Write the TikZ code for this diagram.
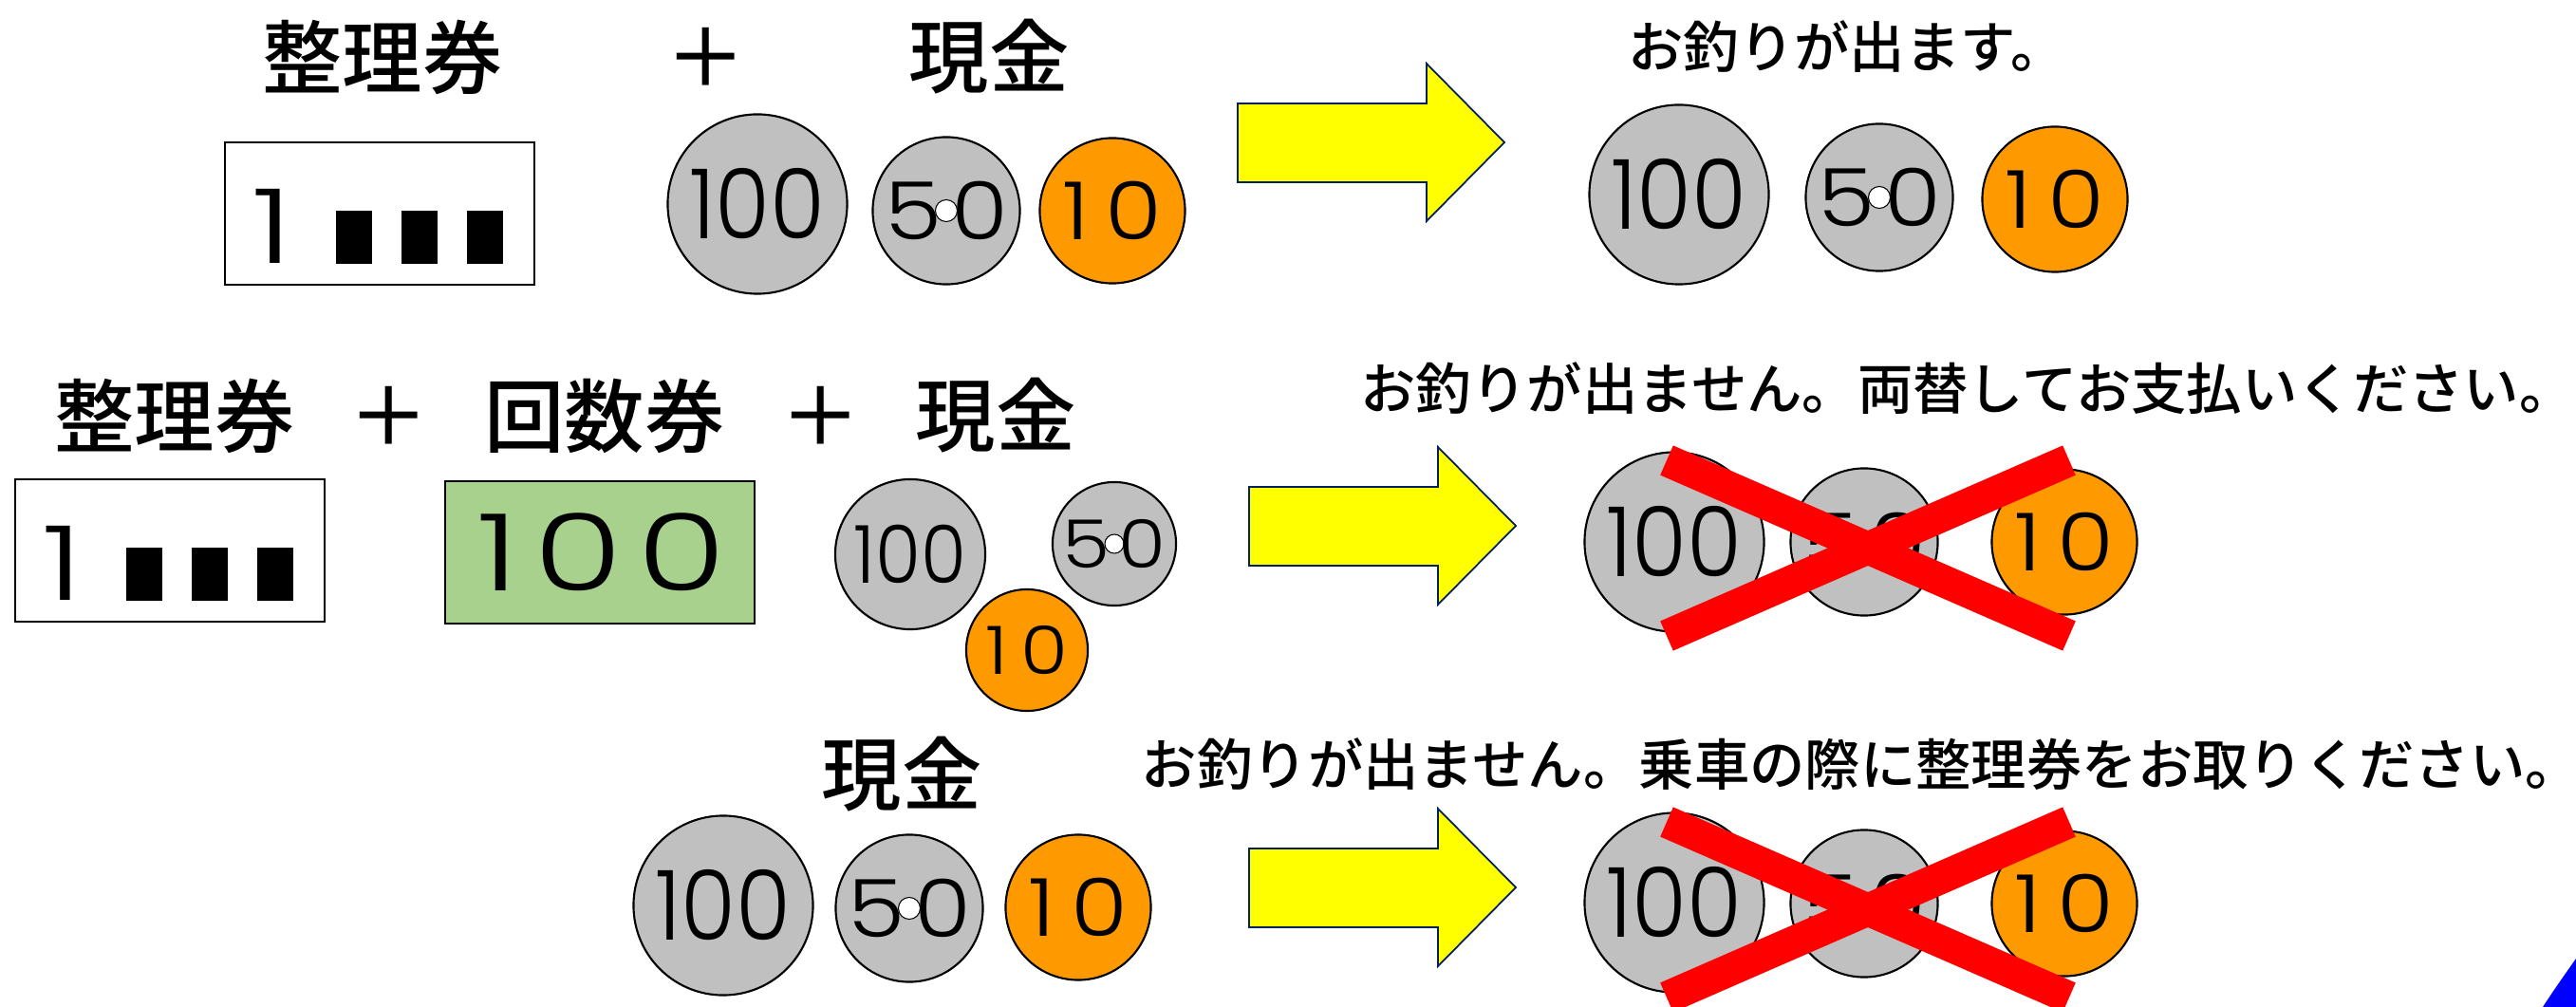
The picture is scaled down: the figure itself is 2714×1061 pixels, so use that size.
\documentclass[tikz,border=0pt]{standalone}
\usepackage{fontspec}
\setmainfont{Noto Sans CJK JP Medium}
\newfontfamily\midfont[FakeStretch=0.92]{Poppins Light}
\newfontfamily\widefont[FakeStretch=1.15]{Poppins Light}
\newfontfamily\notefont[FakeStretch=1.35]{Poppins Light}
\usetikzlibrary{positioning}

\definecolor{coingray}{RGB}{192,192,192}
\definecolor{coinorange}{RGB}{255,153,0}
\definecolor{notegreen}{RGB}{169,209,142}
\definecolor{arrowblue}{RGB}{0,32,96}
\definecolor{arrowyellow}{RGB}{255,255,0}
\definecolor{crossred}{RGB}{255,0,0}
\definecolor{cornerblue}{RGB}{0,0,255}
\newcommand{\nowidth}[1]{\makebox[0pt]{#1}}

\tikzset{
  heading/.style={font=\fontsize{24}{24}\selectfont,inner sep=0pt},
  message/.style={font=\fontsize{16.6}{16.6}\selectfont,inner sep=0pt},
  coin/.style={draw,circle,line width=.6pt,inner sep=0pt,fill=coingray},
  bigsize/.style={font=\midfont\fontsize{#1}{#1}\selectfont},
  smallsize/.style={font=\widefont\fontsize{#1}{#1}\selectfont,inner sep=0pt},
  tenyen/.style={coin,fill=coinorange},
  hole/.style={draw,circle,line width=.3pt,fill=white,inner sep=0pt,minimum size=.23cm},
  ticket/.style={draw,line width=.6pt,minimum width=3.26cm,minimum height=1.5cm,inner sep=0pt},
  bar/.style={fill=black,inner sep=0pt,minimum width=.37cm,minimum height=.55cm},
  bigarrow/.style={draw=arrowblue,line width=.5pt,fill=arrowyellow},
  crossout/.style={crossred,line width=.34cm}
}

\begin{document}
\begin{tikzpicture}[x=.01cm,y=-.01cm]
\useasboundingbox (0,0) rectangle (2714,1061);
% first row
\node[heading] (title1) at (403,60) {整理券};
\node[heading] (plus1) at (744,60) {＋};
\node[heading] (cash1) at (1042,60) {現金};
\node[message] (msg1) at (1946,49) {お釣りが出ます。\hspace{-.6em}};
% second row
\node[heading] (title2) at (184,438) {整理券};
\node[heading] (plus2) at (410,438) {＋};
\node[heading] (kaisu) at (637,438) {回数券};
\node[heading] (plus3) at (865,438) {＋};
\node[heading] (cash2) at (1049,438) {現金};
\node[message] (msg2) at (2073,409) {お釣りが出ません。両替してお支払いください。\hspace{-1em}};
% third row
\node[heading] (cash3) at (950,816) {現金};
\node[message] (msg3) at (1961,805) {お釣りが出ません。乗車の際に整理券をお取りください。\hspace{-1em}};
% tickets
\foreach \n/\x/\y in {A/236/149,B/15/504} {
  \node[ticket,anchor=north west] (ticket\n) at (\x,\y) {};
  \node[inner sep=0pt,font=\notefont\fontsize{31}{31}\selectfont] (one\n) at (\x+51,\y+89) {1};
  \foreach \i/\d in {1/137,2/206,3/275}
    \node[bar] (bar\n\i) at (\x+\d,\y+101) {};
}
\node[ticket,anchor=north west,fill=notegreen] (note) at (468,506) {};
\node[inner sep=0pt,font=\notefont\fontsize{32}{32}\selectfont] (notetext) at (634,582) {1\hspace{.14em}0\hspace{.14em}0};
% coins
\foreach \n/\x/\y in {a/798/215,b/1769/205,c/1764/571,d/762/954,e/1764/951} {
  \node[coin,bigsize=29,minimum size=1.89cm] (hundred\n) at (\x,\y) {\nowidth{100}};
}
\foreach \n/\x/\y in {a/997/222,b/1980/208,c/1964/571,d/958/957,e/1964/952} {
  \node[coin,minimum size=1.55cm] (fifty\n) at (\x,\y) {};
  \node[hole] (hole\n) at (fifty\n) {};
  \node[smallsize=24] (fiftytext\n) at (fifty\n) {\nowidth{5\hspace{.12em}0}};
}
\foreach \n/\x/\y in {a/1172/222,b/2165/210,c/2175/571,d/1136/956,e/2175/952} {
  \node[tenyen,smallsize=24,minimum size=1.53cm] (ten\n) at (\x,\y) {\nowidth{1\hspace{.2em}0}};
}
\node[coin,bigsize=24,minimum size=1.58cm] (hundredf) at (959,584) {\nowidth{100}};
\node[coin,minimum size=1.3cm] (fiftyf) at (1174,573) {};
\node[hole,minimum size=.2cm] (holef) at (fiftyf) {};
\node[smallsize=20] (fiftytextf) at (fiftyf) {\nowidth{5\hspace{.12em}0}};
\node[tenyen,smallsize=20,minimum size=1.28cm] (tenf) at (1082,685) {\nowidth{1\hspace{.2em}0}};
% arrows
\foreach \x/\y in {1304/67,1316/471,1316/852}
  \draw[bigarrow] (\x,\y+42) -- (\x+199,\y+42) -- (\x+199,\y) -- (\x+281,\y+83)
    -- (\x+199,\y+166) -- (\x+199,\y+125) -- (\x,\y+125) -- cycle;
% crosses
\foreach \n/\y in {c/0,e/381} {
  \coordinate (p\n) at (1756,485+\y);
  \coordinate (q\n) at (2180,670+\y);
  \coordinate (r\n) at (2180,485+\y);
  \coordinate (s\n) at (1756,670+\y);
  \draw[crossout] (p\n) -- (q\n);
  \draw[crossout] (r\n) -- (s\n);
}
% corner of a blue shape
\fill[cornerblue] (2679,1061) .. controls (2690,1044) and (2702,1027) .. (2714,1010) -- (2714,1061) -- cycle;
\end{tikzpicture}
\end{document}
